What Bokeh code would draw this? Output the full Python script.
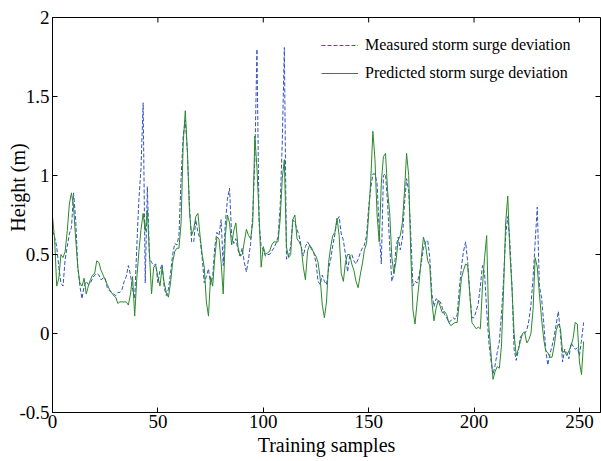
from bokeh.plotting import figure
from bokeh.models import Range1d, FixedTicker, Legend, LegendItem
from bokeh.embed import file_html
from bokeh.resources import INLINE

# ---- data ----
measured = [
    0.65, 0.61, 0.55, 0.42, 0.32, 0.30, 0.47, 0.55, 0.63, 0.67,
    0.89, 0.72, 0.42, 0.30, 0.22, 0.30, 0.33, 0.31, 0.32, 0.35,
    0.37, 0.38, 0.37, 0.34, 0.35, 0.35, 0.29, 0.27, 0.26, 0.25,
    0.24, 0.26, 0.26, 0.28, 0.33, 0.36, 0.43, 0.37, 0.28, 0.22,
    0.55, 0.85, 1.05, 1.46, 0.32, 0.93, 0.48, 0.45, 0.43, 0.44,
    0.32, 0.40, 0.44, 0.29, 0.24, 0.28, 0.38, 0.50, 0.57, 0.56,
    0.62, 0.98, 1.25, 1.35, 1.15, 0.80, 0.58, 0.58, 0.72, 0.64,
    0.60, 0.48, 0.32, 0.36, 0.41, 0.31, 0.36, 0.55, 0.64, 0.62,
    0.72, 0.43, 0.70, 0.85, 0.92, 0.62, 0.57, 0.60, 0.53, 0.49,
    0.54, 0.45, 0.39, 0.47, 0.57, 0.75, 1.10, 1.80, 0.70, 0.55,
    0.53, 0.49, 0.50, 0.50, 0.52, 0.54, 0.57, 0.61, 0.80, 1.20,
    1.81, 0.47, 0.49, 0.55, 0.72, 0.70, 0.66, 0.62, 0.55, 0.49,
    0.55, 0.58, 0.56, 0.53, 0.51, 0.45, 0.33, 0.31, 0.37, 0.33,
    0.31, 0.41, 0.47, 0.56, 0.63, 0.72, 0.74, 0.63, 0.59, 0.50,
    0.39, 0.49, 0.50, 0.46, 0.44, 0.47, 0.51, 0.54, 0.56, 0.62,
    0.80, 0.92, 1.01, 1.01, 0.95, 0.65, 0.44, 1.00, 1.01, 0.82,
    0.55, 0.33, 0.38, 0.55, 0.61, 0.53, 0.60, 0.82, 0.98, 0.90,
    0.62, 0.30, 0.33, 0.32, 0.37, 0.45, 0.54, 0.58, 0.59, 0.48,
    0.25, 0.17, 0.22, 0.21, 0.20, 0.16, 0.12, 0.10, 0.07, 0.08,
    0.10, 0.09, 0.12, 0.28, 0.42, 0.52, 0.58, 0.45, 0.25, 0.10,
    0.10, 0.14, 0.19, 0.30, 0.43, 0.38, 0.15, -0.05, -0.17, -0.26,
    -0.20, -0.12, -0.05, 0.12, 0.34, 0.62, 0.74, 0.58, 0.30, -0.10,
    -0.17, -0.11, -0.02, -0.01, 0.00, 0.02, 0.08, 0.18, 0.35, 0.58,
    0.80, 0.30, 0.23, 0.08, -0.10, -0.20, -0.13, -0.08, -0.02, 0.06,
    0.14, 0.00, -0.18, -0.10, -0.12, -0.16, -0.06, -0.08, -0.10, -0.09,
    -0.14, -0.04, 0.07,
]

predicted = [
    0.74, 0.60, 0.30, 0.35, 0.50, 0.48, 0.52, 0.65, 0.82, 0.89,
    0.80, 0.60, 0.42, 0.32, 0.30, 0.35, 0.25, 0.30, 0.34, 0.37,
    0.38, 0.46, 0.45, 0.40, 0.37, 0.34, 0.31, 0.28, 0.26, 0.24,
    0.23, 0.19, 0.20, 0.20, 0.20, 0.20, 0.18, 0.25, 0.36, 0.11,
    0.35, 0.52, 0.66, 0.76, 0.65, 0.78, 0.50, 0.25, 0.42, 0.43,
    0.36, 0.30, 0.42, 0.32, 0.26, 0.23, 0.32, 0.45, 0.52, 0.54,
    0.54, 0.70, 1.20, 1.41, 1.15, 0.77, 0.62, 0.66, 0.74, 0.76,
    0.62, 0.50, 0.42, 0.20, 0.11, 0.36, 0.30, 0.48, 0.61, 0.60,
    0.45, 0.25, 0.62, 0.75, 0.70, 0.56, 0.65, 0.70, 0.55, 0.49,
    0.50, 0.58, 0.66, 0.62, 0.60, 0.70, 1.25, 1.05, 0.75, 0.42,
    0.55, 0.50, 0.51, 0.52, 0.56, 0.58, 0.58, 0.58, 0.72, 0.98,
    1.10, 0.55, 0.48, 0.50, 0.72, 0.75, 0.60, 0.58, 0.55, 0.42,
    0.34, 0.52, 0.56, 0.54, 0.51, 0.49, 0.45, 0.35, 0.18, 0.10,
    0.20, 0.45, 0.55, 0.62, 0.64, 0.73, 0.62, 0.38, 0.33, 0.45,
    0.50, 0.50, 0.44, 0.40, 0.33, 0.29, 0.37, 0.44, 0.53, 0.57,
    0.75, 0.97, 1.28, 1.10, 0.75, 0.58, 0.95, 1.12, 1.14, 0.90,
    0.76, 0.48, 0.38, 0.46, 0.59, 0.62, 0.70, 0.90, 1.14, 1.00,
    0.50, 0.15, 0.06, 0.20, 0.33, 0.48, 0.61, 0.56, 0.46, 0.43,
    0.20, 0.08, 0.16, 0.21, 0.17, 0.13, 0.14, 0.12, 0.07, 0.05,
    0.06, 0.07, 0.07, 0.20, 0.35, 0.40, 0.44, 0.43, 0.25, 0.07,
    0.05, 0.03, 0.04, 0.03, 0.30, 0.48, 0.62, 0.05, -0.12, -0.29,
    -0.24, -0.21, -0.22, -0.08, 0.27, 0.70, 0.87, 0.52, 0.29, 0.00,
    -0.14, -0.10, -0.05, 0.00, 0.01, -0.06, -0.04, 0.00, 0.15, 0.48,
    0.42, 0.25, 0.10, -0.03, -0.11, -0.12, -0.15, -0.15, -0.08, 0.02,
    0.06, 0.03, -0.12, -0.11, -0.14, -0.11, -0.08, -0.03, 0.07, 0.06,
    -0.18, -0.26, -0.05,
]

samples = list(range(len(measured)))

x_ticks = [0, 50, 100, 150, 200, 250]
y_ticks = [-0.5, 0, 0.5, 1, 1.5, 2]
y_tick_labels = ["-0.5", "0", "0.5", "1", "1.5", "2"]

series_names = ["Measured storm surge deviation", "Predicted storm surge deviation"]
x_title = "Training samples"
y_title = "Height (m)"

FONT = "Liberation Serif"
X0, X1 = 0, 260
Y0, Y1 = -0.5, 2
FRAME_W, FRAME_H = 548, 395
TICK = 5  # px

p = figure(width=601, height=461, output_backend="svg", toolbar_location=None,
           x_range=Range1d(X0, X1), y_range=Range1d(Y0, Y1),
           min_border_left=52, min_border_right=1, min_border_top=17,
           min_border_bottom=49)
p.background_fill_color = "white"
p.border_fill_color = "white"
p.outline_line_color = "black"
p.outline_line_width = 1
p.xgrid.grid_line_color = None
p.ygrid.grid_line_color = None

r_meas = p.line(samples, measured, line_color="#3352c4", line_width=1,
                line_dash="4 2")
r_pred = p.line(samples, predicted, line_color="#2a8a2a", line_width=1)

# inward ticks on the top and right sides of the box
dy = (Y1 - Y0) / FRAME_H * TICK
dx = (X1 - X0) / FRAME_W * TICK
p.segment(x0=x_ticks, y0=[Y1] * len(x_ticks), x1=x_ticks,
          y1=[Y1 - dy] * len(x_ticks), line_color="black", line_width=1)
p.segment(x0=[X1] * len(y_ticks), y0=y_ticks, x1=[X1 - dx] * len(y_ticks),
          y1=y_ticks, line_color="black", line_width=1)


def style_axis(ax, ticks):
    ax.ticker = FixedTicker(ticks=ticks)
    ax.major_tick_in = TICK
    ax.major_tick_out = 0
    ax.minor_tick_line_color = None
    ax.axis_line_color = "black"
    ax.major_tick_line_color = "black"
    ax.major_label_text_font = FONT
    ax.major_label_text_font_size = "19px"
    ax.major_label_text_color = "black"
    ax.axis_label_text_font = FONT
    ax.axis_label_text_font_size = "20px"
    ax.axis_label_text_font_style = "normal"
    ax.axis_label_text_color = "black"


xa = p.xaxis[0]
style_axis(xa, x_ticks)
xa.major_label_standoff = 2
xa.axis_label = x_title
xa.axis_label_standoff = 3

ya = p.yaxis[0]
style_axis(ya, y_ticks)
ya.major_label_standoff = 3
ya.major_label_overrides = {float(t): s for t, s in zip(y_ticks, y_tick_labels)}
# leading no-break spaces lift the (bottom-to-top) title a little, as in the reference
ya.axis_label = "\u00a0" * 11 + y_title
ya.axis_label_standoff = -13

legend = Legend(items=[LegendItem(label=series_names[0], renderers=[r_meas]),
                       LegendItem(label=series_names[1], renderers=[r_pred])],
                location="top_right", margin=18, padding=0, spacing=8,
                label_height=20, glyph_height=20, glyph_width=37,
                label_standoff=7, label_width=217,
                label_text_font=FONT, label_text_font_size="16px",
                label_text_color="black",
                border_line_color=None, background_fill_alpha=0)
p.add_layout(legend)

open("out.html", "w").write(file_html(p, INLINE))
